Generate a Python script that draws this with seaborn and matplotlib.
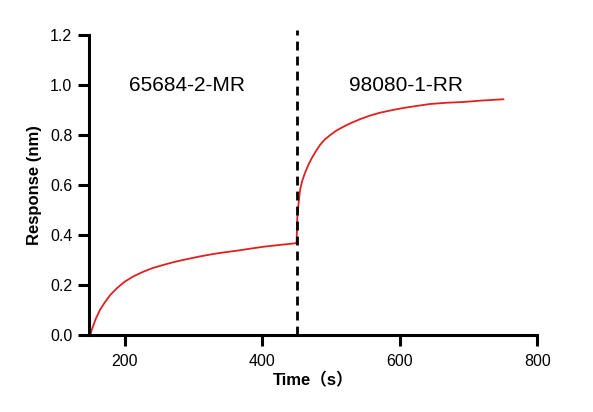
import pandas as pd
import matplotlib
matplotlib.use("Agg")
import matplotlib.pyplot as plt
import seaborn as sns

# (time in s, response in nm)
time_assoc = [150, 152, 158, 164, 171, 179, 189, 200, 213, 227, 241, 256, 272, 290,
              309, 329, 346, 363, 382, 402, 425, 449]
resp_assoc = [0.0, 0.02, 0.065, 0.10, 0.13, 0.16, 0.188, 0.213, 0.235, 0.253, 0.268,
              0.28, 0.292, 0.303, 0.314, 0.324, 0.331, 0.337, 0.345, 0.353, 0.36, 0.367]

time_second = [450, 451, 453, 455, 458, 462, 467, 472, 478, 484, 491, 499, 508, 518,
               530, 542, 556, 571, 588, 605, 624, 644, 668, 692, 720, 751]
resp_second = [0.367, 0.47, 0.53, 0.58, 0.615, 0.647, 0.68, 0.707, 0.735, 0.76, 0.782,
               0.80, 0.818, 0.833, 0.849, 0.863, 0.877, 0.889, 0.899, 0.908, 0.916,
               0.924, 0.929, 0.932, 0.938, 0.943]

switch_time = 450
labels = ["65684-2-MR", "98080-1-RR"]
label_x = [290, 609]

xticks = [200, 400, 600, 800]
yticks = [0.0, 0.2, 0.4, 0.6, 0.8, 1.0, 1.2]

df = pd.DataFrame({"time": time_assoc + time_second,
                   "response": resp_assoc + resp_second})

sns.set_style("ticks")
plt.rcParams['font.family'] = ['Liberation Sans', 'Noto Sans CJK SC', 'DejaVu Sans']
plt.rcParams['text.color'] = 'black'
plt.rcParams['axes.labelcolor'] = 'black'

fig = plt.figure(figsize=(5.93, 4.12), dpi=100)
ax = fig.add_axes([0.150, 0.187, 0.756, 0.728])

sns.lineplot(data=df, x="time", y="response", color="#e0201e", linewidth=1.3,
             sort=False, estimator=None, ax=ax)

ax.vlines(switch_time, 0, 1.22, colors="black", linestyles=(0, (3.2, 2.2)),
          linewidth=2.0, clip_on=False, zorder=3)

ax.set_xlim(148, 800)
ax.set_ylim(0, 1.2)
ax.set_xticks(xticks)
ax.set_yticks(yticks)
ax.set_yticklabels([f"{v:.1f}" for v in yticks])

sns.despine(ax=ax)
for s in ["left", "bottom"]:
    ax.spines[s].set_linewidth(2.2)
    ax.spines[s].set_color("black")
ax.tick_params(axis="both", width=2.2, length=8, labelsize=11.5, colors="black",
               pad=4)
ax.tick_params(axis="x", pad=6)

ax.set_xlabel("Time（s）", fontsize=12, fontweight="bold", labelpad=2)
ax.set_ylabel("Response (nm)", fontsize=12, fontweight="bold", labelpad=6)

for txt, x in zip(labels, label_x):
    ax.text(x, 1.0, txt, fontsize=15, ha="center", va="center")

fig.savefig("out.png", dpi=100)
